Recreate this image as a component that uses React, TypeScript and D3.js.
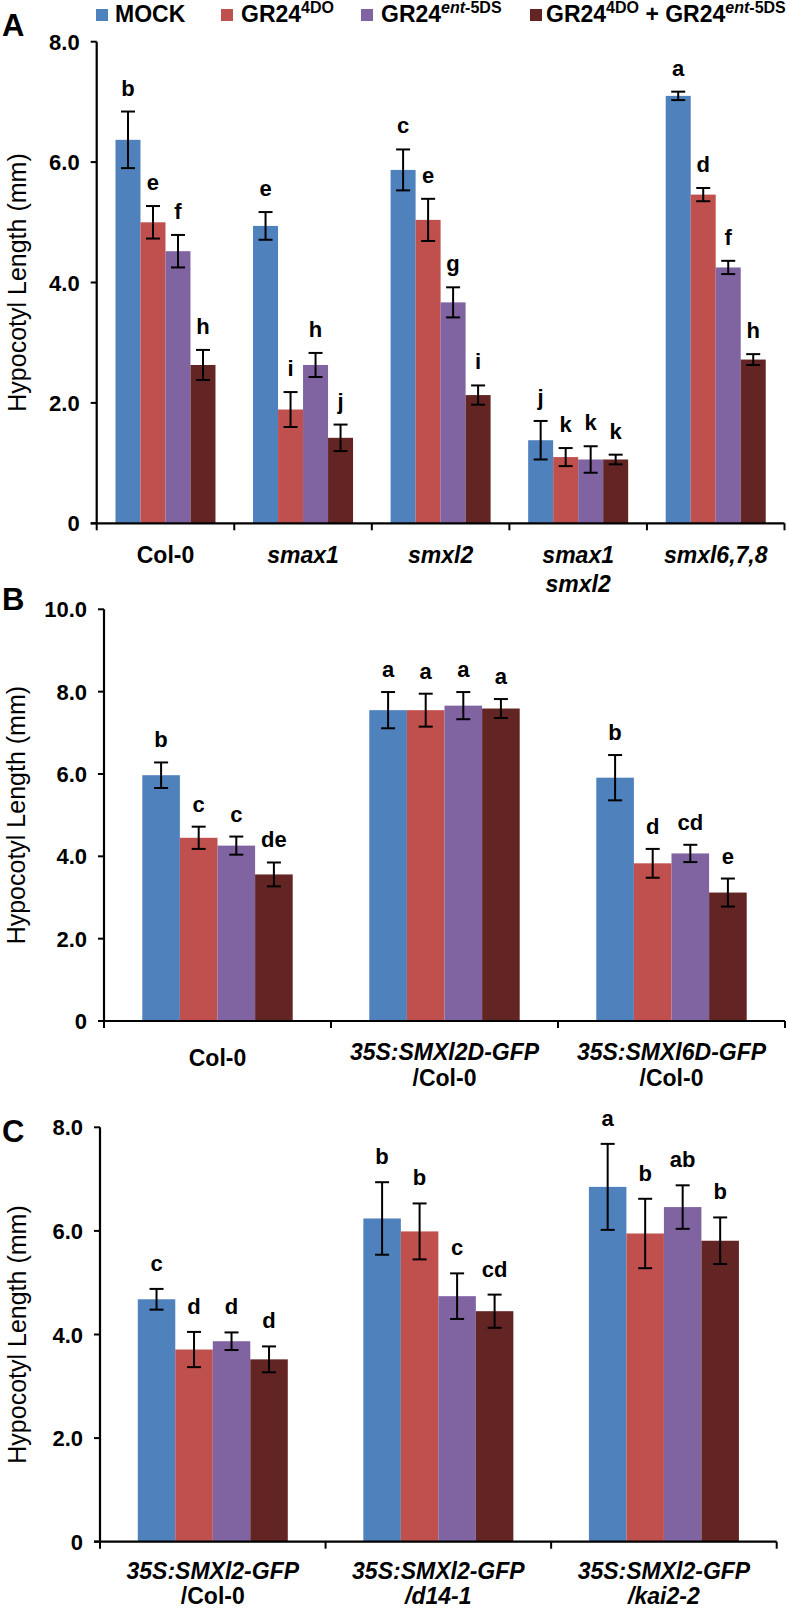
import React from "react";
import * as d3 from "d3";

// ---------- data ----------
const seriesKeys = ["MOCK", "GR24_4DO", "GR24_ent5DS", "GR24_4DO_ent5DS"];
const seriesColors = ["#4F81BD", "#C0504D", "#8064A2", "#632523"];

const categoriesA = ["Col-0", "smax1", "smxl2", "smax1\nsmxl2", "smxl6,7,8"];
const valuesA = [
  [6.37, 5.0, 4.52, 2.63],
  [4.94, 1.89, 2.63, 1.42],
  [5.87, 5.04, 3.67, 2.13],
  [1.38, 1.1, 1.06, 1.06],
  [7.1, 5.46, 4.25, 2.72],
];
const errorsA = [
  [0.47, 0.27, 0.27, 0.25],
  [0.23, 0.29, 0.2, 0.22],
  [0.34, 0.35, 0.25, 0.16],
  [0.32, 0.15, 0.22, 0.08],
  [0.07, 0.11, 0.11, 0.09],
];
const lettersA = [
  ["b", "e", "f", "h"],
  ["e", "i", "h", "j"],
  ["c", "e", "g", "i"],
  ["j", "k", "k", "k"],
  ["a", "d", "f", "h"],
];
const ticksA = [0, 2, 4, 6, 8];

const categoriesB = ["Col-0", "35S:SMXl2D-GFP\n/Col-0", "35S:SMXl6D-GFP\n/Col-0"];
const valuesB = [
  [5.97, 4.45, 4.26, 3.56],
  [7.55, 7.55, 7.66, 7.59],
  [5.91, 3.83, 4.07, 3.12],
];
const errorsB = [
  [0.31, 0.27, 0.22, 0.29],
  [0.44, 0.4, 0.33, 0.23],
  [0.55, 0.35, 0.21, 0.34],
];
const lettersB = [
  ["b", "c", "c", "de"],
  ["a", "a", "a", "a"],
  ["b", "d", "cd", "e"],
];
const ticksB = [0, 2, 4, 6, 8, 10];

const categoriesC = ["35S:SMXl2-GFP\n/Col-0", "35S:SMXl2-GFP\n/d14-1", "35S:SMXl2-GFP\n/kai2-2"];
const valuesC = [
  [4.68, 3.71, 3.87, 3.52],
  [6.24, 5.99, 4.74, 4.45],
  [6.85, 5.95, 6.46, 5.81],
];
const errorsC = [
  [0.2, 0.34, 0.17, 0.25],
  [0.7, 0.54, 0.44, 0.32],
  [0.83, 0.67, 0.42, 0.45],
];
const lettersC = [
  ["c", "d", "d", "d"],
  ["b", "b", "c", "cd"],
  ["a", "b", "ab", "b"],
];
const ticksC = [0, 2, 4, 6, 8];

const yTitle = "Hypocotyl Length (mm)";

// ---------- layout ----------
const FONT = "'Liberation Sans', Arial, Helvetica, sans-serif";

type Cfg = {
  letter: string;
  letterBase: number;
  left: number;
  right: number;
  y0: number;
  yTop: number;
  yMax: number;
  groupRatio: number;
  labelGap: number;
  titleX: number;
  labelLine1: number;
  labelLine2: number;
  singleLineCenter: boolean;
};

const cfgA: Cfg = {
  letter: "A", letterBase: 36, left: 96.7, right: 784.5, y0: 523.3, yTop: 41.7, yMax: 8,
  groupRatio: 0.727, labelGap: 16, titleX: 26, labelLine1: 563, labelLine2: 592, singleLineCenter: false,
};
const cfgB: Cfg = {
  letter: "B", letterBase: 610, left: 104, right: 785, y0: 1021, yTop: 609.3, yMax: 10,
  groupRatio: 0.6626, labelGap: 15, titleX: 25, labelLine1: 1060, labelLine2: 1086, singleLineCenter: true,
};
const cfgC: Cfg = {
  letter: "C", letterBase: 1142, left: 100, right: 776.7, y0: 1541.7, yTop: 1127.3, yMax: 8,
  groupRatio: 0.665, labelGap: 18, titleX: 26, labelLine1: 1579, labelLine2: 1604, singleLineCenter: false,
};

function isUpright(s: string) {
  return s.startsWith("Col-0") || s.startsWith("/Col-0");
}

function Panel(props: {
  cfg: Cfg;
  cats: string[];
  values: number[][];
  errors: number[][];
  letters: string[][];
  ticks: number[];
}) {
  const { cfg, cats, values, errors, letters, ticks } = props;
  const x0 = d3.scaleBand<string>().domain(cats).range([cfg.left, cfg.right]).padding(0);
  const bw = x0.bandwidth();
  const gw = bw * cfg.groupRatio;
  const x1 = d3.scaleBand<string>().domain(seriesKeys).range([0, gw]).padding(0);
  const y = d3.scaleLinear().domain([0, cfg.yMax]).range([cfg.y0, cfg.yTop]);
  const cap = 14;

  return (
    <g fontFamily={FONT}>
      <text x={2} y={cfg.letterBase} fontSize={31} fontWeight="bold">{cfg.letter}</text>
      <text
        transform={`translate(${cfg.titleX},${(cfg.y0 + cfg.yTop) / 2}) rotate(-90)`}
        textAnchor="middle"
        fontSize={25}
      >
        {yTitle}
      </text>
      {/* bars */}
      {cats.map((c, ci) => {
        const gx = (x0(c) as number) + (bw - gw) / 2;
        return (
          <g key={c}>
            {seriesKeys.map((k, si) => {
              const v = values[ci][si];
              const e = errors[ci][si];
              const bx = gx + (x1(k) as number);
              const cx = bx + x1.bandwidth() / 2;
              return (
                <g key={k}>
                  <rect x={bx} y={y(v)} width={x1.bandwidth()} height={y(0) - y(v)} fill={seriesColors[si]} />
                  <line x1={cx} x2={cx} y1={y(v + e)} y2={y(v - e)} stroke="#000" strokeWidth={2} />
                  <line x1={cx - cap / 2} x2={cx + cap / 2} y1={y(v + e)} y2={y(v + e)} stroke="#000" strokeWidth={2} />
                  <line x1={cx - cap / 2} x2={cx + cap / 2} y1={y(v - e)} y2={y(v - e)} stroke="#000" strokeWidth={2} />
                  <text x={cx} y={y(v + e) - cfg.labelGap} textAnchor="middle" fontSize={22} fontWeight="bold">
                    {letters[ci][si]}
                  </text>
                </g>
              );
            })}
          </g>
        );
      })}
      {/* y axis */}
      <line x1={cfg.left} x2={cfg.left} y1={y(cfg.yMax)} y2={y(0)} stroke="#000" strokeWidth={2.2} />
      {ticks.map((t) => (
        <g key={t}>
          <line x1={cfg.left - 6} x2={cfg.left} y1={y(t)} y2={y(t)} stroke="#000" strokeWidth={2} />
          <text x={cfg.left - 17} y={y(t) + 8} textAnchor="end" fontSize={22} fontWeight="bold">
            {t === 0 ? "0" : t.toFixed(1)}
          </text>
        </g>
      ))}
      {/* x axis */}
      <line x1={cfg.left - 6} x2={cfg.right} y1={y(0)} y2={y(0)} stroke="#000" strokeWidth={2.2} />
      {cats.map((c) => (
        <line key={"t" + c} x1={(x0(c) as number) + bw} x2={(x0(c) as number) + bw} y1={y(0)} y2={y(0) + 7} stroke="#000" strokeWidth={2} />
      ))}
      <line x1={cfg.left} x2={cfg.left} y1={y(0)} y2={y(0) + 7} stroke="#000" strokeWidth={2} />
      {cats.map((c) => {
        const lines = c.split("\n");
        const cx = (x0(c) as number) + bw / 2;
        const single = lines.length === 1 && cfg.singleLineCenter;
        return lines.map((ln, li) => (
          <text
            key={c + li}
            x={cx}
            y={single ? (cfg.labelLine1 + 6) : li === 0 ? cfg.labelLine1 : cfg.labelLine2}
            textAnchor="middle"
            fontSize={23}
            fontWeight="bold"
            fontStyle={isUpright(ln) ? "normal" : "italic"}
          >
            {ln}
          </text>
        ));
      })}
    </g>
  );
}

function Legend() {
  const sq = 12;
  const base = 22;
  const sup = 16;
  return (
    <g fontFamily={FONT} fontWeight="bold" fontSize={23}>
      <rect x={96} y={9} width={sq} height={sq} fill={seriesColors[0]} />
      <text x={115} y={base}>MOCK</text>
      <rect x={221} y={9} width={sq} height={sq} fill={seriesColors[1]} />
      <text x={241} y={base}>
        GR24<tspan fontSize={sup} dy={-9}>4DO</tspan>
      </text>
      <rect x={361} y={9} width={sq} height={sq} fill={seriesColors[2]} />
      <text x={381} y={base}>
        GR24<tspan fontSize={sup} dy={-9} fontStyle="italic">ent</tspan>
        <tspan fontSize={sup}>-5DS</tspan>
      </text>
      <rect x={530} y={9} width={sq} height={sq} fill={seriesColors[3]} />
      <text x={546} y={base}>
        GR24<tspan fontSize={sup} dy={-9}>4DO</tspan>
        <tspan dy={9}> + GR24</tspan>
        <tspan fontSize={sup} dy={-9} fontStyle="italic">ent</tspan>
        <tspan fontSize={sup}>-5DS</tspan>
      </text>
    </g>
  );
}

export default function App() {
  return (
    <svg
      width={789}
      height={1614}
      viewBox="0 0 789 1614"
      style={{ position: "absolute", left: 0, top: 0, display: "block", background: "#fff" }}
    >
      <rect x={0} y={0} width={789} height={1614} fill="#fff" />
      <Legend />
      <Panel cfg={cfgA} cats={categoriesA} values={valuesA} errors={errorsA} letters={lettersA} ticks={ticksA} />
      <Panel cfg={cfgB} cats={categoriesB} values={valuesB} errors={errorsB} letters={lettersB} ticks={ticksB} />
      <Panel cfg={cfgC} cats={categoriesC} values={valuesC} errors={errorsC} letters={lettersC} ticks={ticksC} />
    </svg>
  );
}
